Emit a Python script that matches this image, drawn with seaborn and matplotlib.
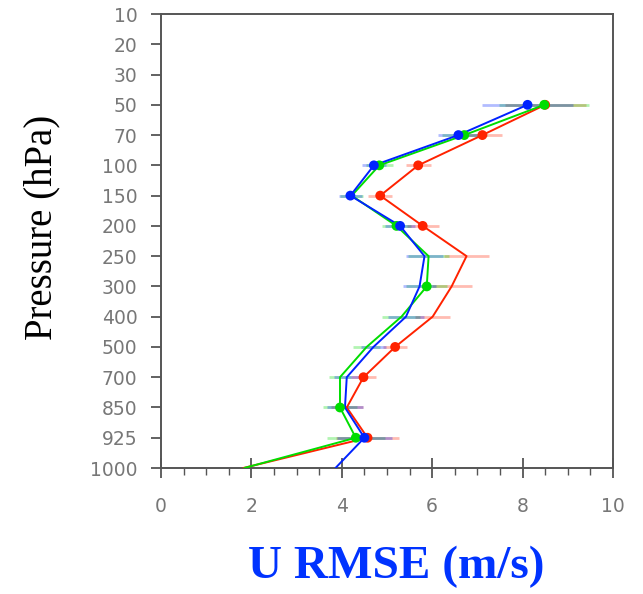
import numpy as np
import pandas as pd
import matplotlib
matplotlib.use("Agg")
import matplotlib.pyplot as plt
import seaborn as sns

# ---- data ----
levels = [10, 20, 30, 50, 70, 100, 150, 200, 250, 300, 400, 500, 700, 850, 925, 1000]
data_levels = [50, 70, 100, 150, 200, 250, 300, 400, 500, 700, 850, 925, 1000]
red = [8.50, 7.11, 5.69, 4.85, 5.79, 6.76, 6.43, 6.01, 5.18, 4.48, 4.11, 4.57, 1.82]
green = [8.48, 6.71, 4.83, 4.22, 5.21, 5.92, 5.88, 5.32, 4.55, 3.96, 3.96, 4.31, 1.84]
blue = [8.11, 6.58, 4.71, 4.19, 5.29, 5.83, 5.72, 5.42, 4.70, 4.11, 4.07, 4.50, 3.86]
err_levels = [50, 70, 100, 150, 200, 250, 300, 400, 500, 700, 850, 925]
red_err = [0.90, 0.43, 0.28, 0.27, 0.35, 0.50, 0.44, 0.38, 0.27, 0.28, 0.35, 0.70]
green_err = [1.00, 0.50, 0.30, 0.25, 0.33, 0.45, 0.45, 0.42, 0.30, 0.25, 0.38, 0.64]
blue_err = [1.00, 0.45, 0.27, 0.25, 0.33, 0.41, 0.37, 0.40, 0.27, 0.28, 0.40, 0.60]
red_marks = [50, 70, 100, 150, 200, 500, 700, 925]
green_marks = [50, 70, 100, 200, 300, 850, 925]
blue_marks = [50, 70, 100, 150, 200, 925]
x_ticks = [0, 2, 4, 6, 8, 10]

colors = {"red": "#ff2200", "green": "#00dd00", "blue": "#0022ff"}
series = {"red": red, "green": green, "blue": blue}
errs = {"red": red_err, "green": green_err, "blue": blue_err}
marks = {"red": red_marks, "green": green_marks, "blue": blue_marks}
lev_idx = {lv: i for i, lv in enumerate(levels)}

rows = []
for name, vals in series.items():
    for lv, v in zip(data_levels, vals):
        rows.append({"series": name, "level": lv, "pos": lev_idx[lv], "value": v})
df = pd.DataFrame(rows)
mrows = []
for name, mk in marks.items():
    vals = dict(zip(data_levels, series[name]))
    for lv in mk:
        mrows.append({"series": name, "pos": lev_idx[lv], "value": vals[lv]})
mdf = pd.DataFrame(mrows)

sns.set_style("white")
fig = plt.figure(figsize=(6.43, 5.94), dpi=100)
ax = fig.add_axes([0.2504, 0.2121, 0.7029, 0.7643])

# error bars (pale)
for name in ["red", "green", "blue"]:
    vals = dict(zip(data_levels, series[name]))
    xs = [vals[lv] for lv in err_levels]
    ys = [lev_idx[lv] for lv in err_levels]
    ax.errorbar(xs, ys, xerr=errs[name], fmt="none", ecolor=colors[name],
                alpha=0.3, elinewidth=2.0, capsize=0, zorder=1)

for name in ["red", "green", "blue"]:
    sub = df[df.series == name]
    sns.lineplot(data=sub, x="value", y="pos", sort=False, estimator=None,
                 color=colors[name], linewidth=1.4, ax=ax, zorder=3)
    msub = mdf[mdf.series == name]
    sns.scatterplot(data=msub, x="value", y="pos", color=colors[name], s=50,
                    edgecolor="none", ax=ax, zorder=4)

ax.set_xlim(0, 10)
ax.set_ylim(len(levels) - 1, 0)
ax.set_yticks(range(len(levels)))
ax.set_yticklabels([str(l) for l in levels])
ax.set_xticks(x_ticks)
ax.set_xticklabels([str(t) for t in x_ticks])
ax.set_xticks(np.arange(0, 10.01, 0.5), minor=True)

tick_color = "#777777"
ax.tick_params(axis="y", which="major", direction="out", length=7, width=1.3,
               color="#555555", labelsize=13.5, labelcolor=tick_color, pad=10, left=True)
ax.tick_params(axis="x", which="major", direction="inout", length=14, width=1.3,
               color="#555555", labelsize=13.5, labelcolor=tick_color, pad=14, bottom=True)
ax.tick_params(axis="x", which="minor", direction="out", length=5, width=1.0,
               color="#555555", bottom=True)
for sp in ax.spines.values():
    sp.set_color("#555555")
    sp.set_linewidth(1.4)
    sp.set_visible(True)

ax.set_ylabel("Pressure (hPa)", family="Liberation Serif", fontsize=28,
              color="black")
ax.yaxis.set_label_coords(-0.222, 0.531)
ax.set_xlabel("U RMSE (m/s)", family="Liberation Serif", fontsize=34,
              fontweight="bold", color="#0033ff")
ax.xaxis.set_label_coords(0.52, -0.172)
ax.grid(False)

fig.savefig("out.png", dpi=100)
